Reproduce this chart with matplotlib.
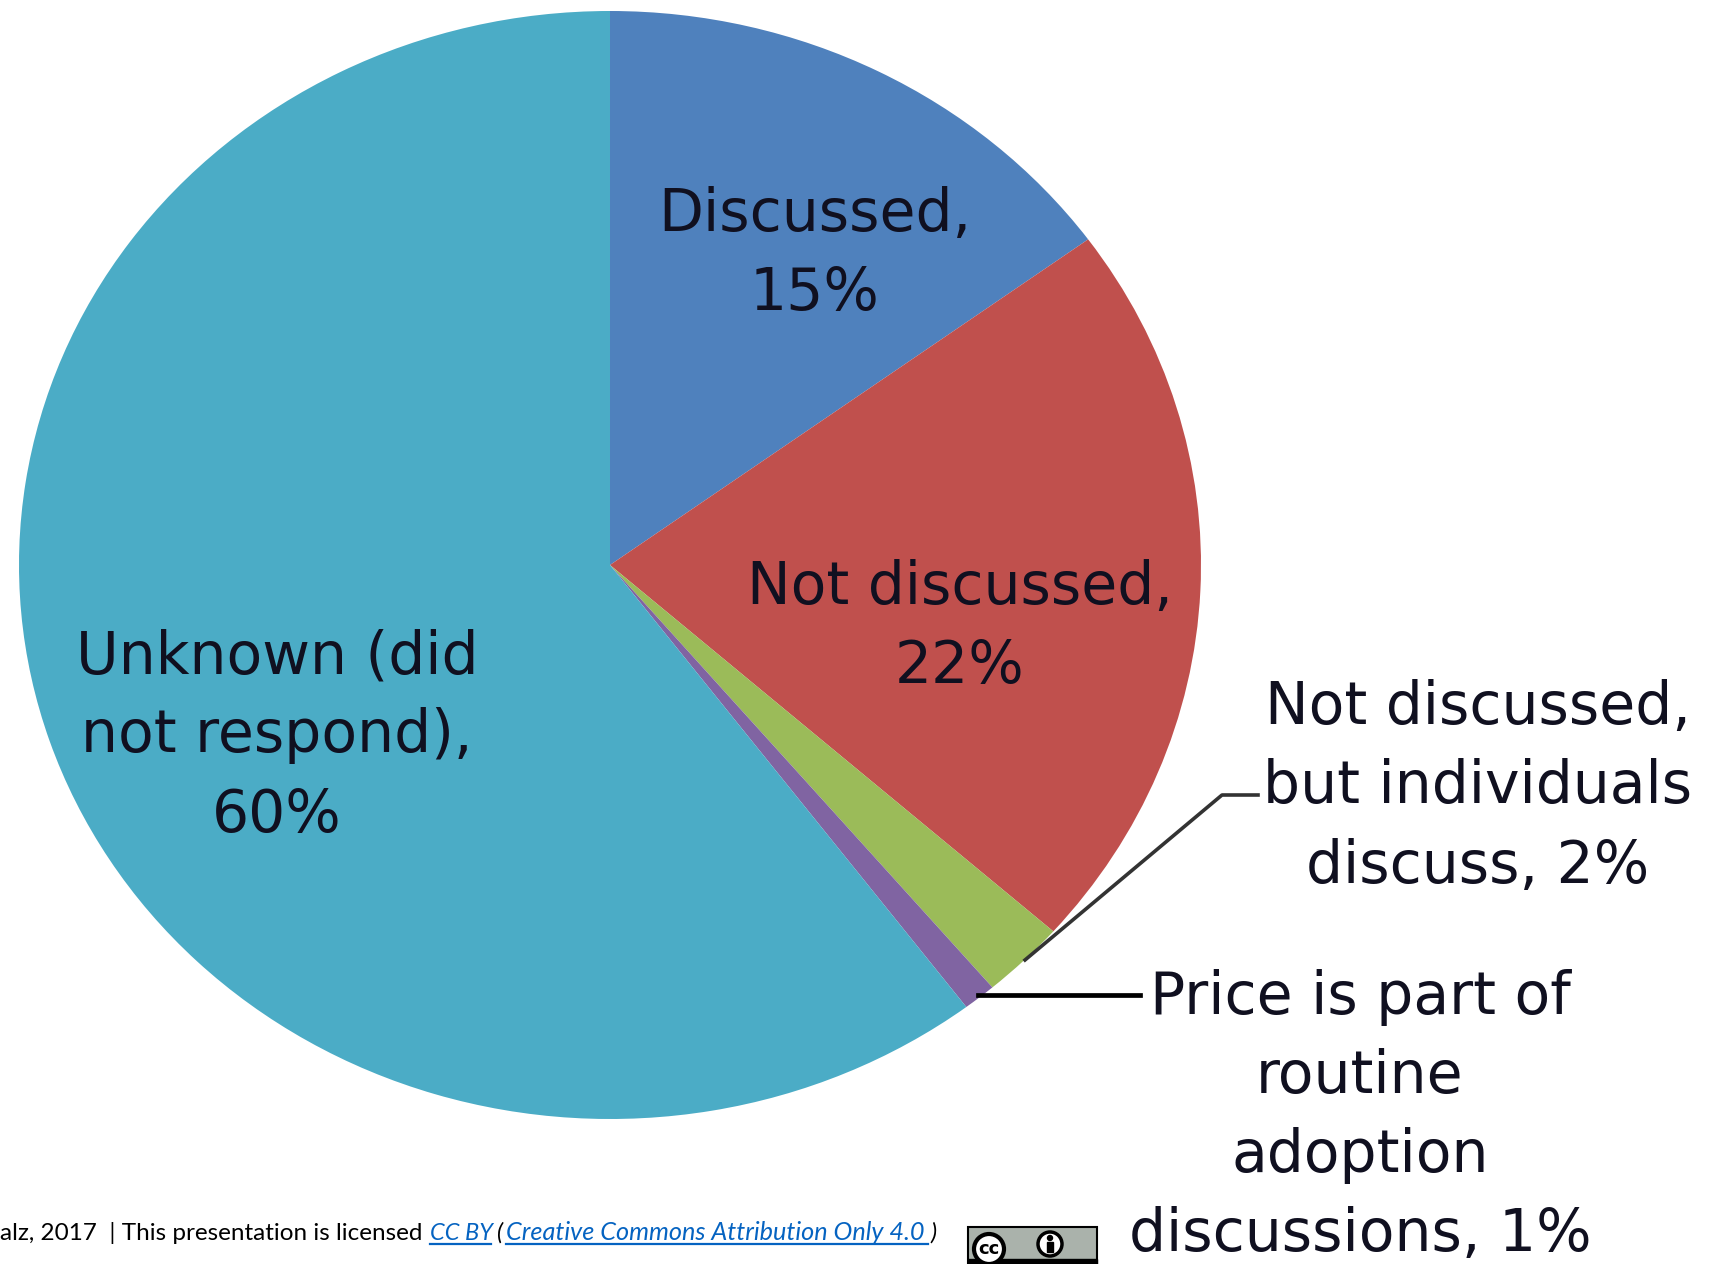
# -*- coding: utf-8 -*-
"""Pie chart: how price is handled in adoption discussions"""

import matplotlib
matplotlib.use("Agg")
import matplotlib.pyplot as plt
from matplotlib.patches import Circle, Rectangle

W, H = 1731, 1264

# slice sizes, labels keep the printed rounded numbers
shares = [15, 21.5, 2.3, 0.9, 60.3]
colors = ["#4F81BD", "#C0504D", "#9BBB59", "#8064A2", "#4BACC6"]
labels = [
    "Discussed,\n15%",
    "Not discussed,\n22%",
    "Not discussed,\nbut individuals\ndiscuss, 2%",
    "Price is part of\nroutine\nadoption\ndiscussions, 1%",
    "Unknown (did\nnot respond),\n60%",
]
label_xy = [(815, 254), (960, 627), (1478, 787), (1360, 1116), (277, 736)]

fig = plt.figure(figsize=(W / 100, H / 100), dpi=100, facecolor="white")

# pie axes: the original is stretched, so it is wider than tall
cx, cy, rx, ry = 610, 565, 591, 554
ax = fig.add_axes([(cx - rx) / W, 1 - (cy + ry) / H, 2 * rx / W, 2 * ry / H])
ax.pie(shares, colors=colors, startangle=90, counterclock=False, radius=1)
ax.set_aspect("auto")
ax.set_xlim(-1, 1)
ax.set_ylim(-1, 1)

# overlay in pixel coordinates for text, leader lines and the badge
top = fig.add_axes([0, 0, 1, 1])
top.set_xlim(0, W)
top.set_ylim(H, 0)
top.axis("off")

for text, (x, y) in zip(labels, label_xy):
    top.text(x, y, text, ha="center", va="center", fontsize=42, color="#101020",
             family="DejaVu Sans", linespacing=1.49)

# leader lines
top.plot([1025, 1222, 1258], [960, 795, 795], color="#333333", lw=2.6)
top.plot([978, 1140], [995, 995], color="black", lw=3.4)

# footer, cut off at the left edge like the original
foot = dict(family="Lato", va="baseline")
link = "#0563C1"
top.text(0, 1240, "alz, 2017  | This presentation is licensed", color="black", fontsize=17.5, **foot)
top.text(430, 1240, "CC BY", color=link, style="italic", fontsize=17, **foot)
top.text(497, 1240, "(", color="black", style="italic", fontsize=17, **foot)
top.text(506, 1240, "Creative Commons Attribution Only 4.0", color=link, style="italic", fontsize=18.2, **foot)
top.text(930, 1240, ")", color="black", style="italic", fontsize=17, **foot)
top.plot([430, 491], [1243.5, 1243.5], color=link, lw=1.6)
top.plot([506, 928], [1243.5, 1243.5], color=link, lw=1.6)

# CC badge
top.add_patch(Rectangle((968, 1227), 129, 40, fc="#AAB2AB", ec="black", lw=1.5, clip_on=True))
top.add_patch(Rectangle((968, 1259), 129, 8, fc="black", ec="black"))
top.add_patch(Circle((989, 1249), 15, fc="white", ec="black", lw=3))
top.text(989, 1249, "cc", fontsize=13, fontweight="bold", ha="center", va="center",
         family="DejaVu Sans")
top.add_patch(Circle((1050, 1244), 12, fc="white", ec="black", lw=2.5))
top.add_patch(Circle((1050, 1238), 2.5, fc="black", ec="black"))
top.add_patch(Rectangle((1047, 1242), 6, 10, fc="black", ec="black"))

fig.savefig("out.png", dpi=100, facecolor="white")
plt.close(fig)
